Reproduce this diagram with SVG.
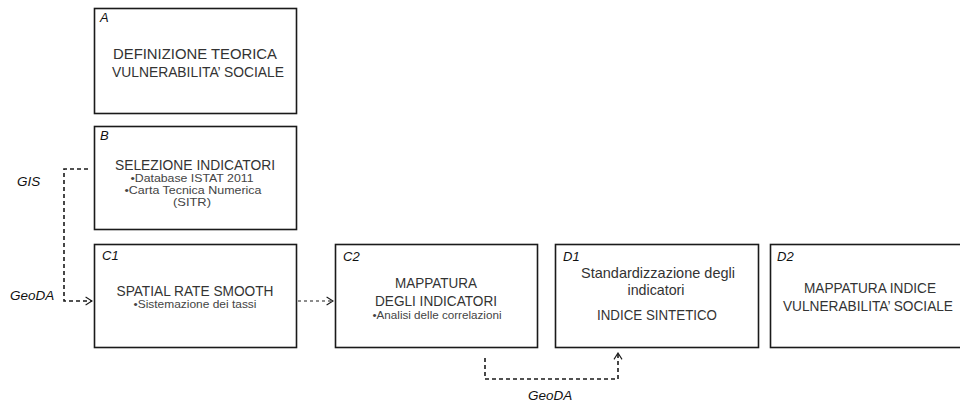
<svg xmlns="http://www.w3.org/2000/svg" width="960" height="403" viewBox="0 0 960 403">
  <style>
    .box { fill: #ffffff; stroke: #1a1a1a; stroke-width: 1.6; }
    .lbl { font-family: "Liberation Sans", Arial, sans-serif; font-style: italic; font-size: 13px; fill: #111; }
    .main { font-family: "Liberation Sans", Arial, sans-serif; font-size: 15px; fill: #333; text-anchor: middle; }
    .sub { font-family: "Liberation Sans", Arial, sans-serif; font-size: 10.5px; fill: #444; text-anchor: middle; }
    .tool { font-family: "Liberation Sans", Arial, sans-serif; font-style: italic; font-size: 13.5px; fill: #111; }
    .conn { fill: none; stroke: #1a1a1a; stroke-width: 1.6; stroke-dasharray: 4 3; }
    .conn-thin { fill: none; stroke: #1a1a1a; stroke-width: 1.1; stroke-dasharray: 3 3; }
  </style>
  <defs>
    <marker id="chev" viewBox="0 0 10 12" markerWidth="8" markerHeight="10" refX="9" refY="6" orient="auto" markerUnits="userSpaceOnUse">
      <path d="M1,1 L9,6 L1,11" fill="none" stroke="#1a1a1a" stroke-width="1.4"/>
    </marker>
  </defs>

  <g id="connectors">
    <path class="conn" d="M88,169 H64 V301 H92" marker-end="url(#chev)"/>
    <path class="conn-thin" d="M298,301 H333" marker-end="url(#chev)"/>
    <path class="conn" d="M485,358 V379 H618 V353" marker-end="url(#chev)"/>
    <text class="tool" x="17" y="186">GIS</text>
    <text class="tool" x="10" y="300">GeoDA</text>
    <text class="tool" x="528" y="400">GeoDA</text>
  </g>

  <g id="nodeA">
    <rect class="box" x="94.5" y="8.5" width="202" height="105"/>
    <text class="lbl" x="100" y="22">A</text>
    <text class="main" x="195" y="59" textLength="164" lengthAdjust="spacingAndGlyphs">DEFINIZIONE TEORICA</text>
    <text class="main" x="198" y="77" textLength="172" lengthAdjust="spacingAndGlyphs">VULNERABILITA’ SOCIALE</text>
  </g>

  <g id="nodeB">
    <rect class="box" x="94.5" y="126.5" width="202" height="103"/>
    <text class="lbl" x="100" y="140">B</text>
    <text class="main" x="195" y="169.5" textLength="160" lengthAdjust="spacingAndGlyphs">SELEZIONE INDICATORI</text>
    <text class="sub" x="192" y="181.5" textLength="123" lengthAdjust="spacingAndGlyphs">•Database ISTAT 2011</text>
    <text class="sub" x="193" y="193.5" textLength="137" lengthAdjust="spacingAndGlyphs">•Carta Tecnica Numerica</text>
    <text class="sub" x="192" y="205.5" textLength="38" lengthAdjust="spacingAndGlyphs">(SITR)</text>
  </g>

  <g id="nodeC1">
    <rect class="box" x="94.5" y="244.5" width="202" height="103"/>
    <text class="lbl" x="102" y="260">C1</text>
    <text class="main" x="195" y="295.5" textLength="157" lengthAdjust="spacingAndGlyphs">SPATIAL RATE SMOOTH</text>
    <text class="sub" x="195" y="308" textLength="123" lengthAdjust="spacingAndGlyphs">•Sistemazione dei tassi</text>
  </g>

  <g id="nodeC2">
    <rect class="box" x="335.5" y="244.5" width="202" height="103"/>
    <text class="lbl" x="343" y="261">C2</text>
    <text class="main" x="436" y="288" textLength="82" lengthAdjust="spacingAndGlyphs">MAPPATURA</text>
    <text class="main" x="436" y="306" textLength="122" lengthAdjust="spacingAndGlyphs">DEGLI INDICATORI</text>
    <text class="sub" x="437" y="319" textLength="129" lengthAdjust="spacingAndGlyphs">•Analisi delle correlazioni</text>
  </g>

  <g id="nodeD1">
    <rect class="box" x="555.5" y="244.5" width="203" height="103"/>
    <text class="lbl" x="563" y="261">D1</text>
    <text class="main" x="658" y="278" textLength="154" lengthAdjust="spacingAndGlyphs">Standardizzazione degli</text>
    <text class="main" x="656" y="295" textLength="57" lengthAdjust="spacingAndGlyphs">indicatori</text>
    <text class="main" x="657" y="320" textLength="120" lengthAdjust="spacingAndGlyphs">INDICE SINTETICO</text>
  </g>

  <g id="nodeD2">
    <rect class="box" x="770.5" y="244.5" width="202" height="103"/>
    <text class="lbl" x="777" y="261">D2</text>
    <text class="main" x="870" y="293" textLength="132" lengthAdjust="spacingAndGlyphs">MAPPATURA INDICE</text>
    <text class="main" x="868" y="311" textLength="170" lengthAdjust="spacingAndGlyphs">VULNERABILITA’ SOCIALE</text>
  </g>
</svg>
